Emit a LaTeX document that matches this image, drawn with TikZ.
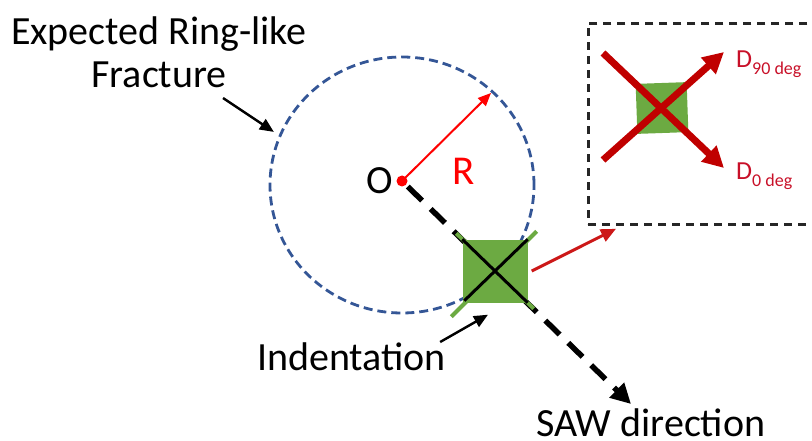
\documentclass[tikz,border=0pt]{standalone}
\usepackage{fontspec}
\setmainfont{Carlito}
\usetikzlibrary{arrows.meta,positioning,calc,shapes.geometric}
\definecolor{ringblue}{RGB}{52,86,150}
\definecolor{indgreen}{RGB}{108,170,66}
\definecolor{crossred}{RGB}{192,0,0}
\definecolor{lblred}{RGB}{200,16,40}
\definecolor{linkred}{RGB}{204,24,24}
\newcommand{\bigtxt}{\fontsize{40}{43}\selectfont}
\newcommand{\subtxt}[1]{\raisebox{-7pt}{\fontsize{18}{20}\selectfont #1}}

\begin{document}
\begin{tikzpicture}[x=1pt,y=-1pt,>=Latex]
\tikzset{lbl/.style={font=\bigtxt,inner sep=0pt},
 callout/.style={-{Triangle[length=14pt,width=12pt]},line width=2.4pt,draw=black},
 gline/.style={line width=4pt,draw=indgreen},
 xline/.style={line width=3pt,draw=black},
 xarm/.style={-{Triangle[length=21pt,width=21pt]},line width=7pt,draw=crossred},
 dlbl/.style={font=\fontsize{26}{30}\selectfont,text=lblred,inner sep=0pt,anchor=base west}}
\useasboundingbox (0,0) rectangle (812,441);
% expected fracture ring and its centre
\node[ellipse,draw=ringblue,line width=2.8pt,dash pattern=on 9pt off 5pt,minimum width=264pt,minimum height=256pt,inner sep=0pt] (ring) at (402,185) {};
\node[circle,fill=red,inner sep=0pt,minimum size=11pt] (O) at (402,181) {};
\node[lbl,left=3pt of O] (Olbl) {O};
\coordinate (Rtip) at (491,93);
\draw[-{Triangle[length=13pt,width=11pt]},line width=2pt,red] (O.center) -- (Rtip);
\node[lbl,font=\fontsize{41}{45}\selectfont,text=red] (Rlbl) at (464,171) {R};
% SAW direction through the indent
\coordinate (sawtip) at (631,404);
\draw[-{Triangle[length=20pt,width=20pt]},line width=5.5pt,dash pattern=on 20pt off 12pt,shorten <=8pt] (O.center) -- (sawtip);
\node[fill=indgreen,minimum width=65pt,minimum height=63pt,inner sep=0pt] (ind) at (495,271) {};
\draw[gline] ($(ind.north west)+(-6,-6)$) -- ($(ind.south east)+(6,6)$);
\draw[gline] ($(ind.south west)+(-11,14)$) -- ($(ind.north east)+(9,-8)$);
\draw[xline] (ind.north west) -- (ind.south east);
\draw[xline] ($(ind.south west)+(2,-2)$) -- (ind.north east);
% zoomed inset
\node[draw=black!85,line width=2.8pt,dash pattern=on 8pt off 6pt,minimum width=240pt,minimum height=201pt,anchor=north west,inner sep=0pt] (inset) at (587,22) {};
\coordinate (linktip) at ($(inset.south west)+(29,3)$);
\draw[-{Triangle[length=15pt,width=13pt]},line width=3pt,linkred] ($(ind.east)+(4,0)$) -- (linktip);
\node[fill=indgreen,minimum width=51pt,minimum height=50pt,inner sep=0pt,rotate=2] (mini) at (662,108) {};
\coordinate (armAtail) at ($(mini)+(-59,-55)$);
\coordinate (armAtip) at ($(mini)+(62,60)$);
\coordinate (armBtail) at ($(mini)+(-59,52)$);
\coordinate (armBtip) at ($(mini)+(62,-56)$);
\draw[xarm] (armAtail) -- (armAtip);
\draw[xarm] (armBtail) -- (armBtip);
\node[dlbl] (d90) at (736,68) {D\subtxt{90 deg}};
\node[dlbl] (d0) at (736,180) {D\subtxt{0 deg}};
% labels with callouts
\node[lbl,align=center,anchor=base] (ringlbl) at (159,88) {Expected Ring-like\\Fracture};
\coordinate (fractail) at (223,98);
\draw[callout,shorten >=6pt] (fractail) -- (ring.158);
\node[lbl,anchor=base west] (indlbl) at (257,370) {Indentation};
\coordinate (indtail) at ($(indlbl.north east)+(-6,0)$);
\coordinate (indtip) at ($(ind.south)+(-7,12)$);
\draw[callout] (indtail) -- (indtip);
\node[lbl,anchor=base west] (sawlbl) at (536,436) {SAW direction};
\end{tikzpicture}
\end{document}
